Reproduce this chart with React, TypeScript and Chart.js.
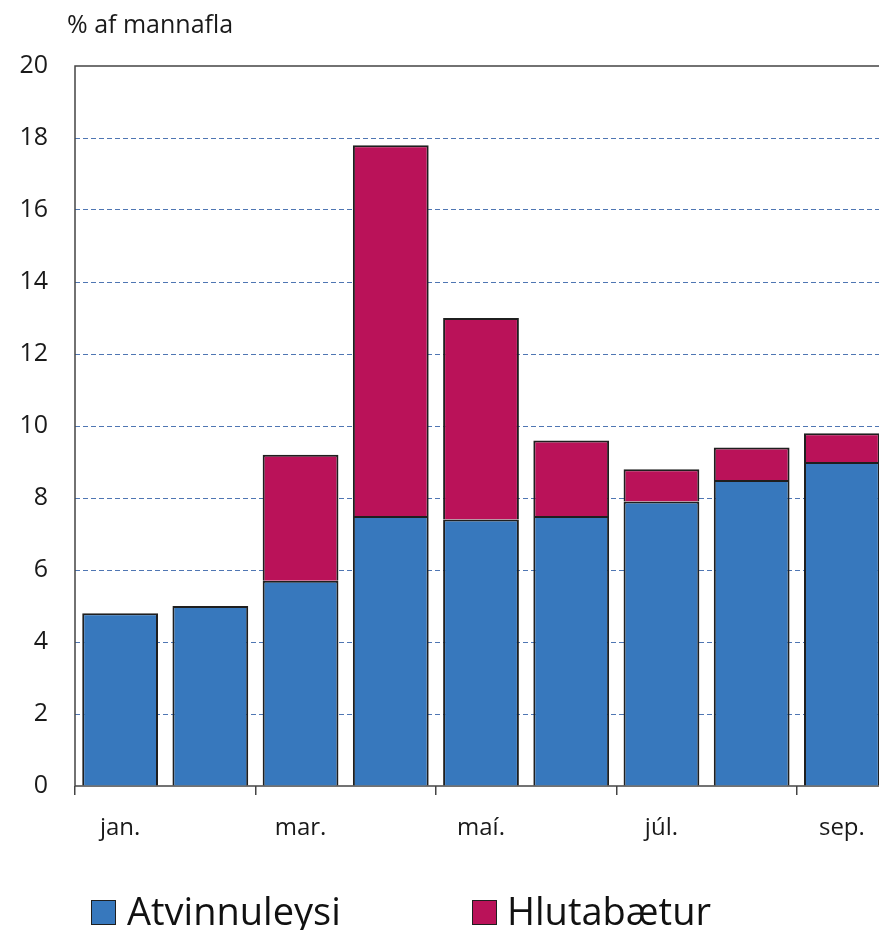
import { useEffect, useRef } from 'react';
import { Chart, registerables } from 'chart.js';

Chart.register(...registerables);

const months = ['jan.', 'feb.', 'mar.', 'apr.', 'maí.', 'jún.', 'júl.', 'ágú.', 'sep.'];
const atvinnuleysi = [4.8, 5.0, 5.7, 7.5, 7.4, 7.5, 7.9, 8.5, 9.0];
const hlutabaetur: (number | null)[] = [null, null, 3.5, 10.3, 5.6, 2.1, 0.9, 0.9, 0.8];
const unitLabel = '% af mannafla';
const seriesNames = ['Atvinnuleysi', 'Hlutabætur'];

const FONT = "'Open Sans', 'DejaVu Sans', sans-serif";
const BLUE = '#3778BD';
const CRIMSON = '#BA1259';
const EDGE = '#1f1f1f';

// Frame around the plot area, drawn beneath the bars
const framePlugin = {
  id: 'frame',
  beforeDatasetsDraw(chart: any) {
    const { ctx, chartArea: a } = chart;
    ctx.save();
    ctx.strokeStyle = '#444';
    ctx.lineWidth = 1.5;
    ctx.strokeRect(a.left, a.top, a.right - a.left, a.bottom - a.top);
    ctx.restore();
  },
};

// Unit label above the y axis and the legend row under the chart
const textPlugin = {
  id: 'texts',
  afterDraw(chart: any) {
    const { ctx } = chart;
    ctx.save();
    ctx.fillStyle = '#1a1a1a';
    ctx.textBaseline = 'alphabetic';
    ctx.textAlign = 'left';
    ctx.font = `25px ${FONT}`;
    ctx.fillText(unitLabel, 67, 33);

    const items = [
      { box: 91, text: 127 },
      { box: 472, text: 507 },
    ];
    chart.data.datasets.forEach((ds: any, i: number) => {
      const it = items[i];
      ctx.fillStyle = ds.backgroundColor;
      ctx.fillRect(it.box, 900, 24, 24);
      ctx.strokeStyle = EDGE;
      ctx.lineWidth = 1;
      ctx.strokeRect(it.box + 0.5, 900.5, 24, 24);
      ctx.fillStyle = '#111';
      ctx.font = `38px ${FONT}`;
      ctx.fillText(ds.label, it.text, 925);
    });
    ctx.restore();
  },
};

export default function App() {
  const ref = useRef<HTMLCanvasElement | null>(null);

  useEffect(() => {
    if (!ref.current) return;
    const chart = new Chart(ref.current, {
      type: 'bar',
      data: {
        labels: months,
        datasets: [
          {
            label: seriesNames[0],
            data: atvinnuleysi,
            backgroundColor: BLUE,
            borderColor: EDGE,
            borderWidth: 2,
          },
          {
            label: seriesNames[1],
            data: hlutabaetur,
            backgroundColor: CRIMSON,
            borderColor: EDGE,
            borderWidth: 2,
          },
        ],
      },
      options: {
        responsive: false,
        maintainAspectRatio: false,
        animation: false,
        layout: { padding: { top: 66, right: 13, bottom: 70, left: 0 } },
        datasets: {
          bar: { categoryPercentage: 1, barPercentage: 0.84 },
        },
        plugins: {
          legend: { display: false },
          tooltip: { enabled: false },
        },
        scales: {
          x: {
            stacked: true,
            offset: true,
            afterFit(scale: any) {
              scale.height = 74;
            },
            border: { display: false },
            grid: {
              display: true,
              offset: true,
              drawOnChartArea: false,
              drawTicks: true,
              tickLength: 9,
              lineWidth: 1.5,
              color: (c: any) => (c.index % 2 === 0 ? '#444' : 'rgba(0,0,0,0)'),
            },
            ticks: {
              autoSkip: false,
              maxRotation: 0,
              padding: 19,
              color: '#1a1a1a',
              font: { family: FONT, size: 24 },
              callback: (_v: any, i: number) => (i % 2 === 0 ? months[i] : ''),
            },
          },
          y: {
            stacked: true,
            min: 0,
            max: 20,
            afterFit(scale: any) {
              scale.width = 75;
            },
            border: { display: false, dash: [5, 3] },
            grid: {
              drawTicks: false,
              lineWidth: 1,
              color: (c: any) =>
                c.tick && (c.tick.value === 0 || c.tick.value === 20) ? 'rgba(0,0,0,0)' : '#4F76B3',
            },
            ticks: {
              stepSize: 2,
              padding: 27,
              color: '#1a1a1a',
              font: { family: FONT, size: 25 },
            },
          },
        },
      },
      plugins: [framePlugin, textPlugin],
    });
    return () => chart.destroy();
  }, []);

  return (
    <div
      style={{
        position: 'fixed',
        left: 0,
        top: 0,
        width: 879,
        height: 930,
        overflow: 'hidden',
        background: '#fff',
      }}
    >
      <canvas ref={ref} width={900} height={930} style={{ display: 'block' }} />
    </div>
  );
}
